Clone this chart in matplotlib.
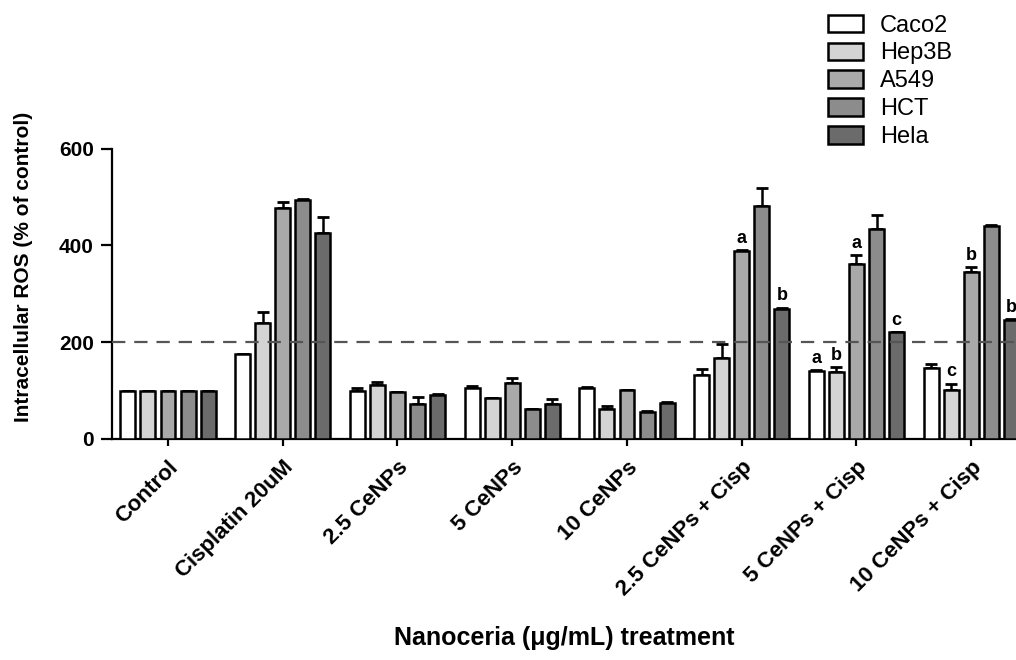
import numpy as np
import matplotlib.pyplot as plt
from matplotlib.patches import Patch

plt.rcParams['font.family'] = ['Liberation Sans', 'DejaVu Sans']

grupy = ['Control', 'Cisplatin 20uM', '2.5 CeNPs', '5 CeNPs', '10 CeNPs',
         '2.5 CeNPs + Cisp', '5 CeNPs + Cisp', '10 CeNPs + Cisp']
linie = ['Caco2', 'Hep3B', 'A549', 'HCT', 'Hela']
kolory = ['#ffffff', '#d4d4d4', '#a9a9a9', '#8c8c8c', '#6b6b6b']

# srednie ROS dla kazdej linii komorkowej (kolejnosc jak w grupy)
caco2 = [100, 176, 99, 105, 105, 132, 141, 146]
hep3b = [100, 239, 112, 84, 61, 167, 139, 101]
a549 = [100, 477, 96, 116, 102, 388, 362, 345]
hct = [100, 493, 72, 61, 56, 481, 434, 439]
hela = [100, 426, 91, 72, 75, 268, 220, 245]

# odchylenia (SEM)
caco2_err = [0, 0, 7, 5, 3, 13, 1, 8]
hep3b_err = [0, 24, 6, 0, 7, 29, 9, 13]
a549_err = [0, 12, 0, 10, 0, 2, 17, 10]
hct_err = [0, 2, 14, 1, 1, 38, 28, 2]
hela_err = [0, 33, 1, 10, 1, 3, 1, 2]

# litery istotnosci: (grupa, linia, litera)
litery = [(5, 2, 'a'), (5, 4, 'b'),
          (6, 0, 'a'), (6, 1, 'b'), (6, 2, 'a'), (6, 4, 'c'),
          (7, 1, 'c'), (7, 2, 'b'), (7, 4, 'b')]

wartosci = [caco2, hep3b, a549, hct, hela]
bledy = [caco2_err, hep3b_err, a549_err, hct_err, hela_err]

fig = plt.figure(figsize=(10.16, 6.6), dpi=100)
ax = fig.add_axes([0.110, 0.335, 0.890, 0.44])

x = np.arange(len(grupy))
krok = 0.175
szer = 0.13
for i in range(len(linie)):
    xi = x + (i - 2) * krok
    ax.bar(xi, wartosci[i], width=szer, color=kolory[i], edgecolor='black',
           linewidth=1.8, zorder=3)
    ax.errorbar(xi, wartosci[i], yerr=[np.zeros(len(x)), bledy[i]], fmt='none',
                ecolor='black', elinewidth=1.8, capsize=4, capthick=2, zorder=2)

for g, l, txt in litery:
    y = wartosci[l][g] + bledy[l][g] + 7
    ax.text(x[g] + (l - 2) * krok, y, txt, ha='center', va='bottom',
            fontsize=13, fontweight='bold')

ax.axhline(200, color='#555555', linestyle=(0, (6, 4)), linewidth=1.6, zorder=4)

ax.set_xlim(-0.49, 7.39)
ax.set_ylim(0, 600)
ax.set_yticks([0, 200, 400, 600])
ax.set_xticks(x)
ax.set_xticklabels(grupy, rotation=45, ha='right', rotation_mode='anchor',
                   fontsize=16, fontweight='bold')
for t in ax.get_yticklabels():
    t.set_fontsize(15)
    t.set_fontweight('bold')
ax.tick_params(axis='y', length=8, width=1.6, direction='out', pad=5)
ax.tick_params(axis='x', length=5, width=1.6, direction='out', pad=8)
ax.spines['top'].set_visible(False)
ax.spines['right'].set_visible(False)
ax.spines['left'].set_linewidth(1.6)
ax.spines['bottom'].set_linewidth(1.6)

ax.set_ylabel('Intracellular ROS (% of control)', fontsize=15, fontweight='bold')
ax.yaxis.set_label_coords(-0.087, 0.593)
fig.text(0.555, 0.033, 'Nanoceria (\u03bcg/mL) treatment', ha='center', va='center',
         fontsize=18, fontweight='bold')

uchwyty = [Patch(facecolor=kolory[i], edgecolor='black', linewidth=1.8)
           for i in range(len(linie))]
fig.legend(uchwyty, linie, loc='upper left', bbox_to_anchor=(0.815, 0.978),
           frameon=False, fontsize=17, handlelength=1.5, handleheight=0.75,
           labelspacing=0.25, handletextpad=0.7, borderpad=0, borderaxespad=0)

fig.savefig('out.png', dpi=100)
